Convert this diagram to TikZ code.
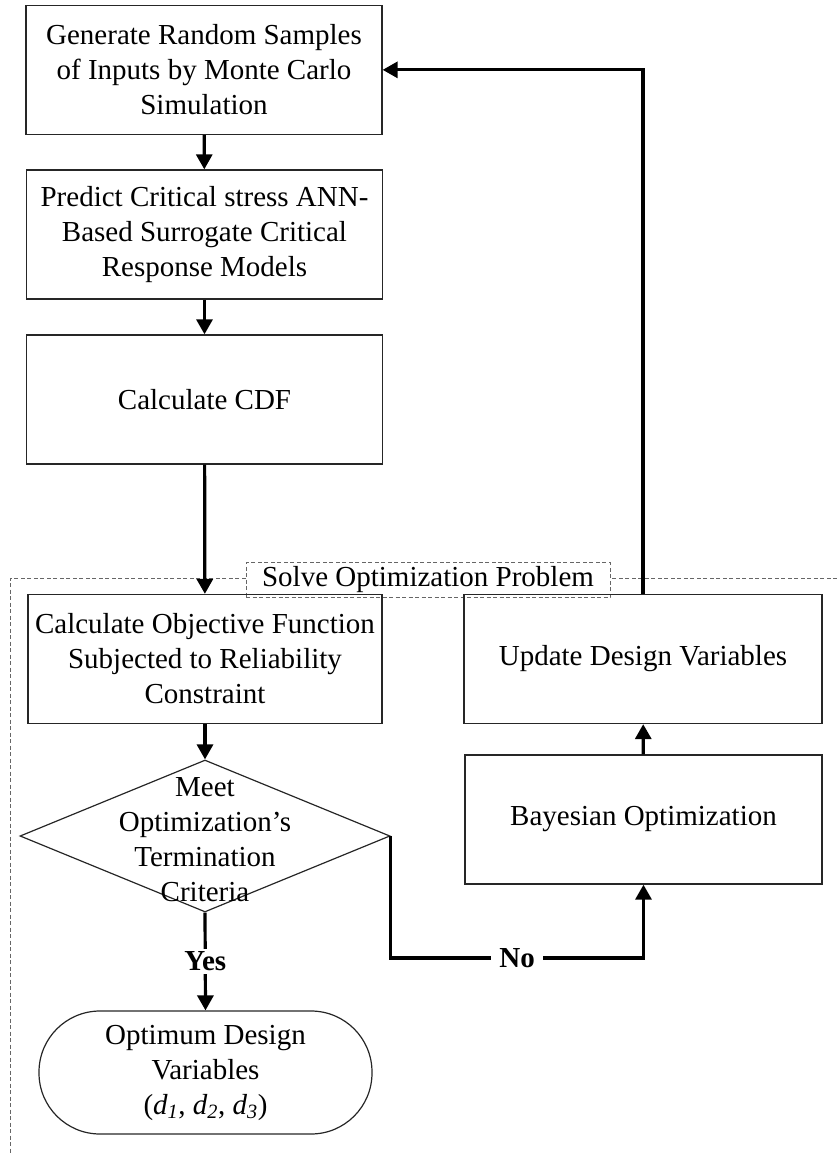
\documentclass[tikz,border=0pt]{standalone}
\usepackage{fontspec}
\setmainfont{Liberation Serif}
\usetikzlibrary{arrows.meta,shapes.geometric}
\begin{document}
\begin{tikzpicture}[x=1pt,y=-1pt,
  every node/.style={font=\fontsize{29}{35}\selectfont},
  box/.style={draw=black!85,line width=1.3pt,minimum width=356pt,minimum height=129pt,align=center,inner sep=0pt},
  conn/.style={line width=3.2pt,-{Triangle[length=15pt,width=16pt]}},
  lbl/.style={fill=white,font=\fontsize{29}{35}\selectfont\bfseries,inner sep=3pt},
  frame/.style={draw=black!60,line width=0.8pt,dash pattern=on 4pt off 2.5pt}]
\useasboundingbox (0,0) rectangle (837,1153);
% dashed frame
\draw[frame] (837,578) -- (10,578) -- (10,1153);
\node[frame,fill=white,inner sep=4pt,minimum width=364pt,minimum height=35pt] (solve) at (428,580) {Solve Optimization Problem};
% boxes
\node[box] (gen) at (204,70) {Generate Random Samples\\of Inputs by Monte Carlo\\Simulation};
\node[box] (pred) at (204.5,234.5) {Predict Critical stress ANN-\\Based Surrogate Critical\\Response Models};
\node[box] (cdf) at (204.5,399.5) {Calculate CDF};
\node[box,minimum width=354pt] (obj) at (205,659) {Calculate Objective Function\\Subjected to Reliability\\Constraint};
\node[draw=black!85,line width=1.2pt,diamond,inner sep=0pt,minimum width=370pt,minimum height=152pt] (dec) at (205,836) {};
\node[align=center,inner sep=0pt] (dectext) at (205,840) {Meet\\Optimization’s\\Termination\\Criteria};
\node[draw=black!85,line width=1.2pt,rectangle,rounded corners=61pt,minimum width=333pt,minimum height=123pt,align=center,inner sep=0pt] (opt) at (205.5,1072.5) {Optimum Design\\Variables\\(\textit{d}\textsubscript{\textit{1}}, \textit{d}\textsubscript{\textit{2}}, \textit{d}\textsubscript{\textit{3}})};
\node[box,minimum width=358pt] (upd) at (643,659) {Update Design Variables};
\node[box,minimum width=357pt] (bay) at (643.5,819.5) {Bayesian Optimization};
% connectors
\draw[conn] (gen) -- (pred);
\draw[conn] (pred) -- (cdf);
\draw[conn] (cdf) -- (obj);
\draw[conn] (obj) -- (dec);
\draw[conn] (dec.south) -- node[lbl]{Yes} (opt.north);
\draw[conn] (dec.east) -- ++(0,122) coordinate (nc) -- node[lbl,pos=0.5,inner xsep=8pt]{No} (nc -| bay.south) -- (bay.south);
\draw[conn] (bay) -- (upd);
\draw[conn] (upd.north) -- ++(0,-524) coordinate (tc) -- (tc -| gen.east);
\end{tikzpicture}
\end{document}
